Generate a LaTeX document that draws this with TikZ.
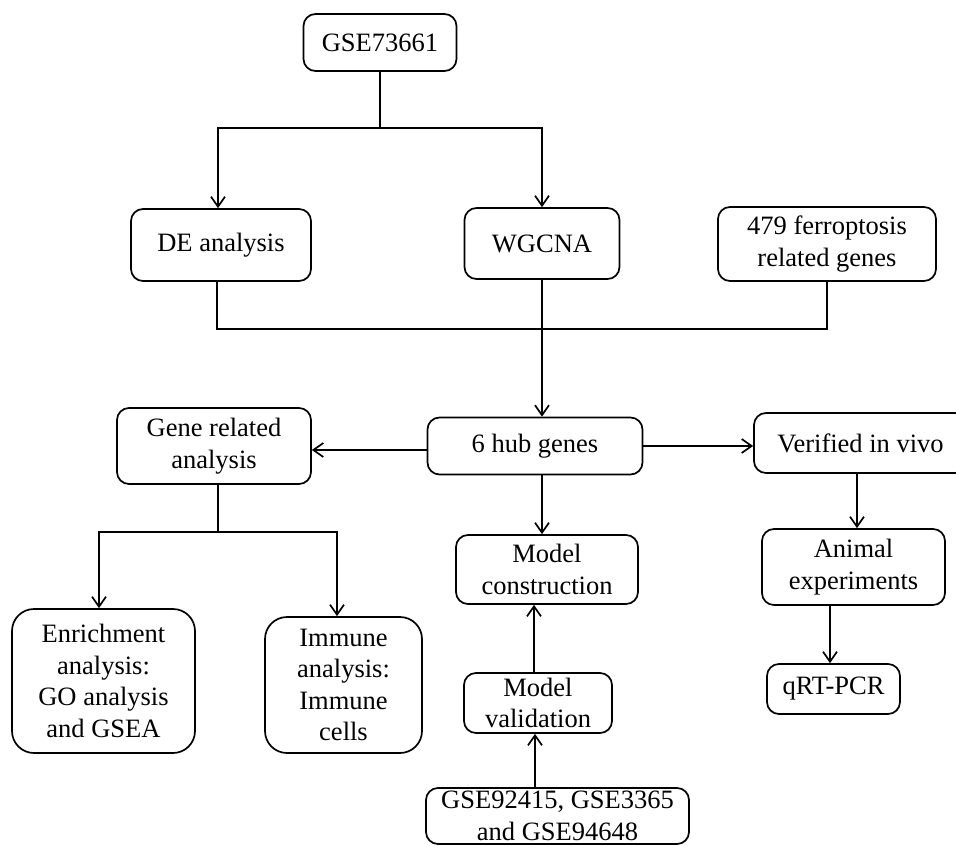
\documentclass[tikz,border=0pt]{standalone}
\usepackage{fontspec}
\setmainfont{Liberation Serif}
\usetikzlibrary{arrows.meta,calc}
\tikzset{
  box/.style={draw, line width=1.7pt, rounded corners=12pt, align=center, inner sep=0pt,
    font=\fontsize{26.5}{31.5}\selectfont},
  conn/.style={line width=1.7pt},
  arr/.style={conn, -{Straight Barb[length=10pt,width=14pt,line width=1.7pt]}}
}
\begin{document}
\begin{tikzpicture}[x=1pt,y=-1pt]
\useasboundingbox (0,0) rectangle (956,846);
\clip (0,0) rectangle (956,846);
\node[box, minimum width=153pt, minimum height=57pt] (gse) at (380,42.5) {GSE73661};
\node[box, minimum width=180pt, minimum height=72pt] (de) at (221,245) {DE analysis};
\node[box, minimum width=155pt, minimum height=71pt] (wgcna) at (542,243.5) {WGCNA};
\node[box, minimum width=218pt, minimum height=74pt] (ferro) at (827,244) {479 ferroptosis\\related genes};
\node[box, minimum width=194pt, minimum height=76pt] (gene) at (214,446) {Gene related\\analysis};
\node[box, minimum width=215pt, minimum height=57pt] (hub) at (535,446) {6 hub genes};
\node[box, minimum width=213pt, minimum height=60pt] (ver) at (860.5,443) {Verified in vivo};
\node[box, minimum width=182pt, minimum height=69pt] (mc) at (547,569.5) {Model\\construction};
\node[box, minimum width=183pt, minimum height=76pt] (anim) at (853.5,567) {Animal\\experiments};
\node[box, minimum width=133pt, minimum height=50pt] (qrt) at (833.5,689) {qRT-PCR};
\node[box, minimum width=183pt, minimum height=144pt, rounded corners=22pt] (enr) at (103.5,681) {Enrichment\\analysis:\\GO analysis\\and GSEA};
\node[box, minimum width=157pt, minimum height=136pt, rounded corners=22pt] (imm) at (343.5,685) {Immune\\analysis:\\Immune\\cells};
\node[box, minimum width=148pt, minimum height=60pt] (mv) at (538,703) {Model\\validation};
\node[box, minimum width=263pt, minimum height=56pt] (gse2) at (557.5,816) {GSE92415, GSE3365\\and GSE94648};

\coordinate (split1) at (380,128);
\coordinate (merge) at (542,329);
\coordinate (split2) at (218,532);

\draw[conn] (gse.south) -- (split1);
\draw[arr] (split1) -| ([xshift=-3pt]de.north);
\draw[arr] (split1) -| (wgcna.north);
\draw[conn] ([xshift=-4pt]de.south) |- (merge) -| (ferro.south);
\draw[arr] (wgcna.south) -- (wgcna.south |- hub.north);
\draw[arr] ([yshift=-4pt]hub.west) -- ([yshift=-4pt]hub.west -| gene.east);
\draw[arr] (hub.east) -- (hub.east -| ver.west);
\draw[conn] ([xshift=4pt]gene.south) -- (split2);
\draw[arr] (split2) -| ([xshift=-4.5pt]enr.north);
\draw[arr] (split2) -| ([xshift=-6.5pt]imm.north);
\draw[arr] (wgcna.south |- hub.south) -- (wgcna.south |- mc.north);
\draw[arr] ([xshift=-4pt]mv.north) -- ([xshift=-4pt]mv.north |- mc.south);
\draw[arr] ([xshift=-3pt]mv.south |- gse2.north) -- ([xshift=-3pt]mv.south);
\draw[arr] ([xshift=-3.5pt]ver.south) -- ([xshift=-3.5pt]ver.south |- anim.north);
\draw[arr] ([xshift=-3.5pt]qrt.north |- anim.south) -- ([xshift=-3.5pt]qrt.north);
\end{tikzpicture}
\end{document}
